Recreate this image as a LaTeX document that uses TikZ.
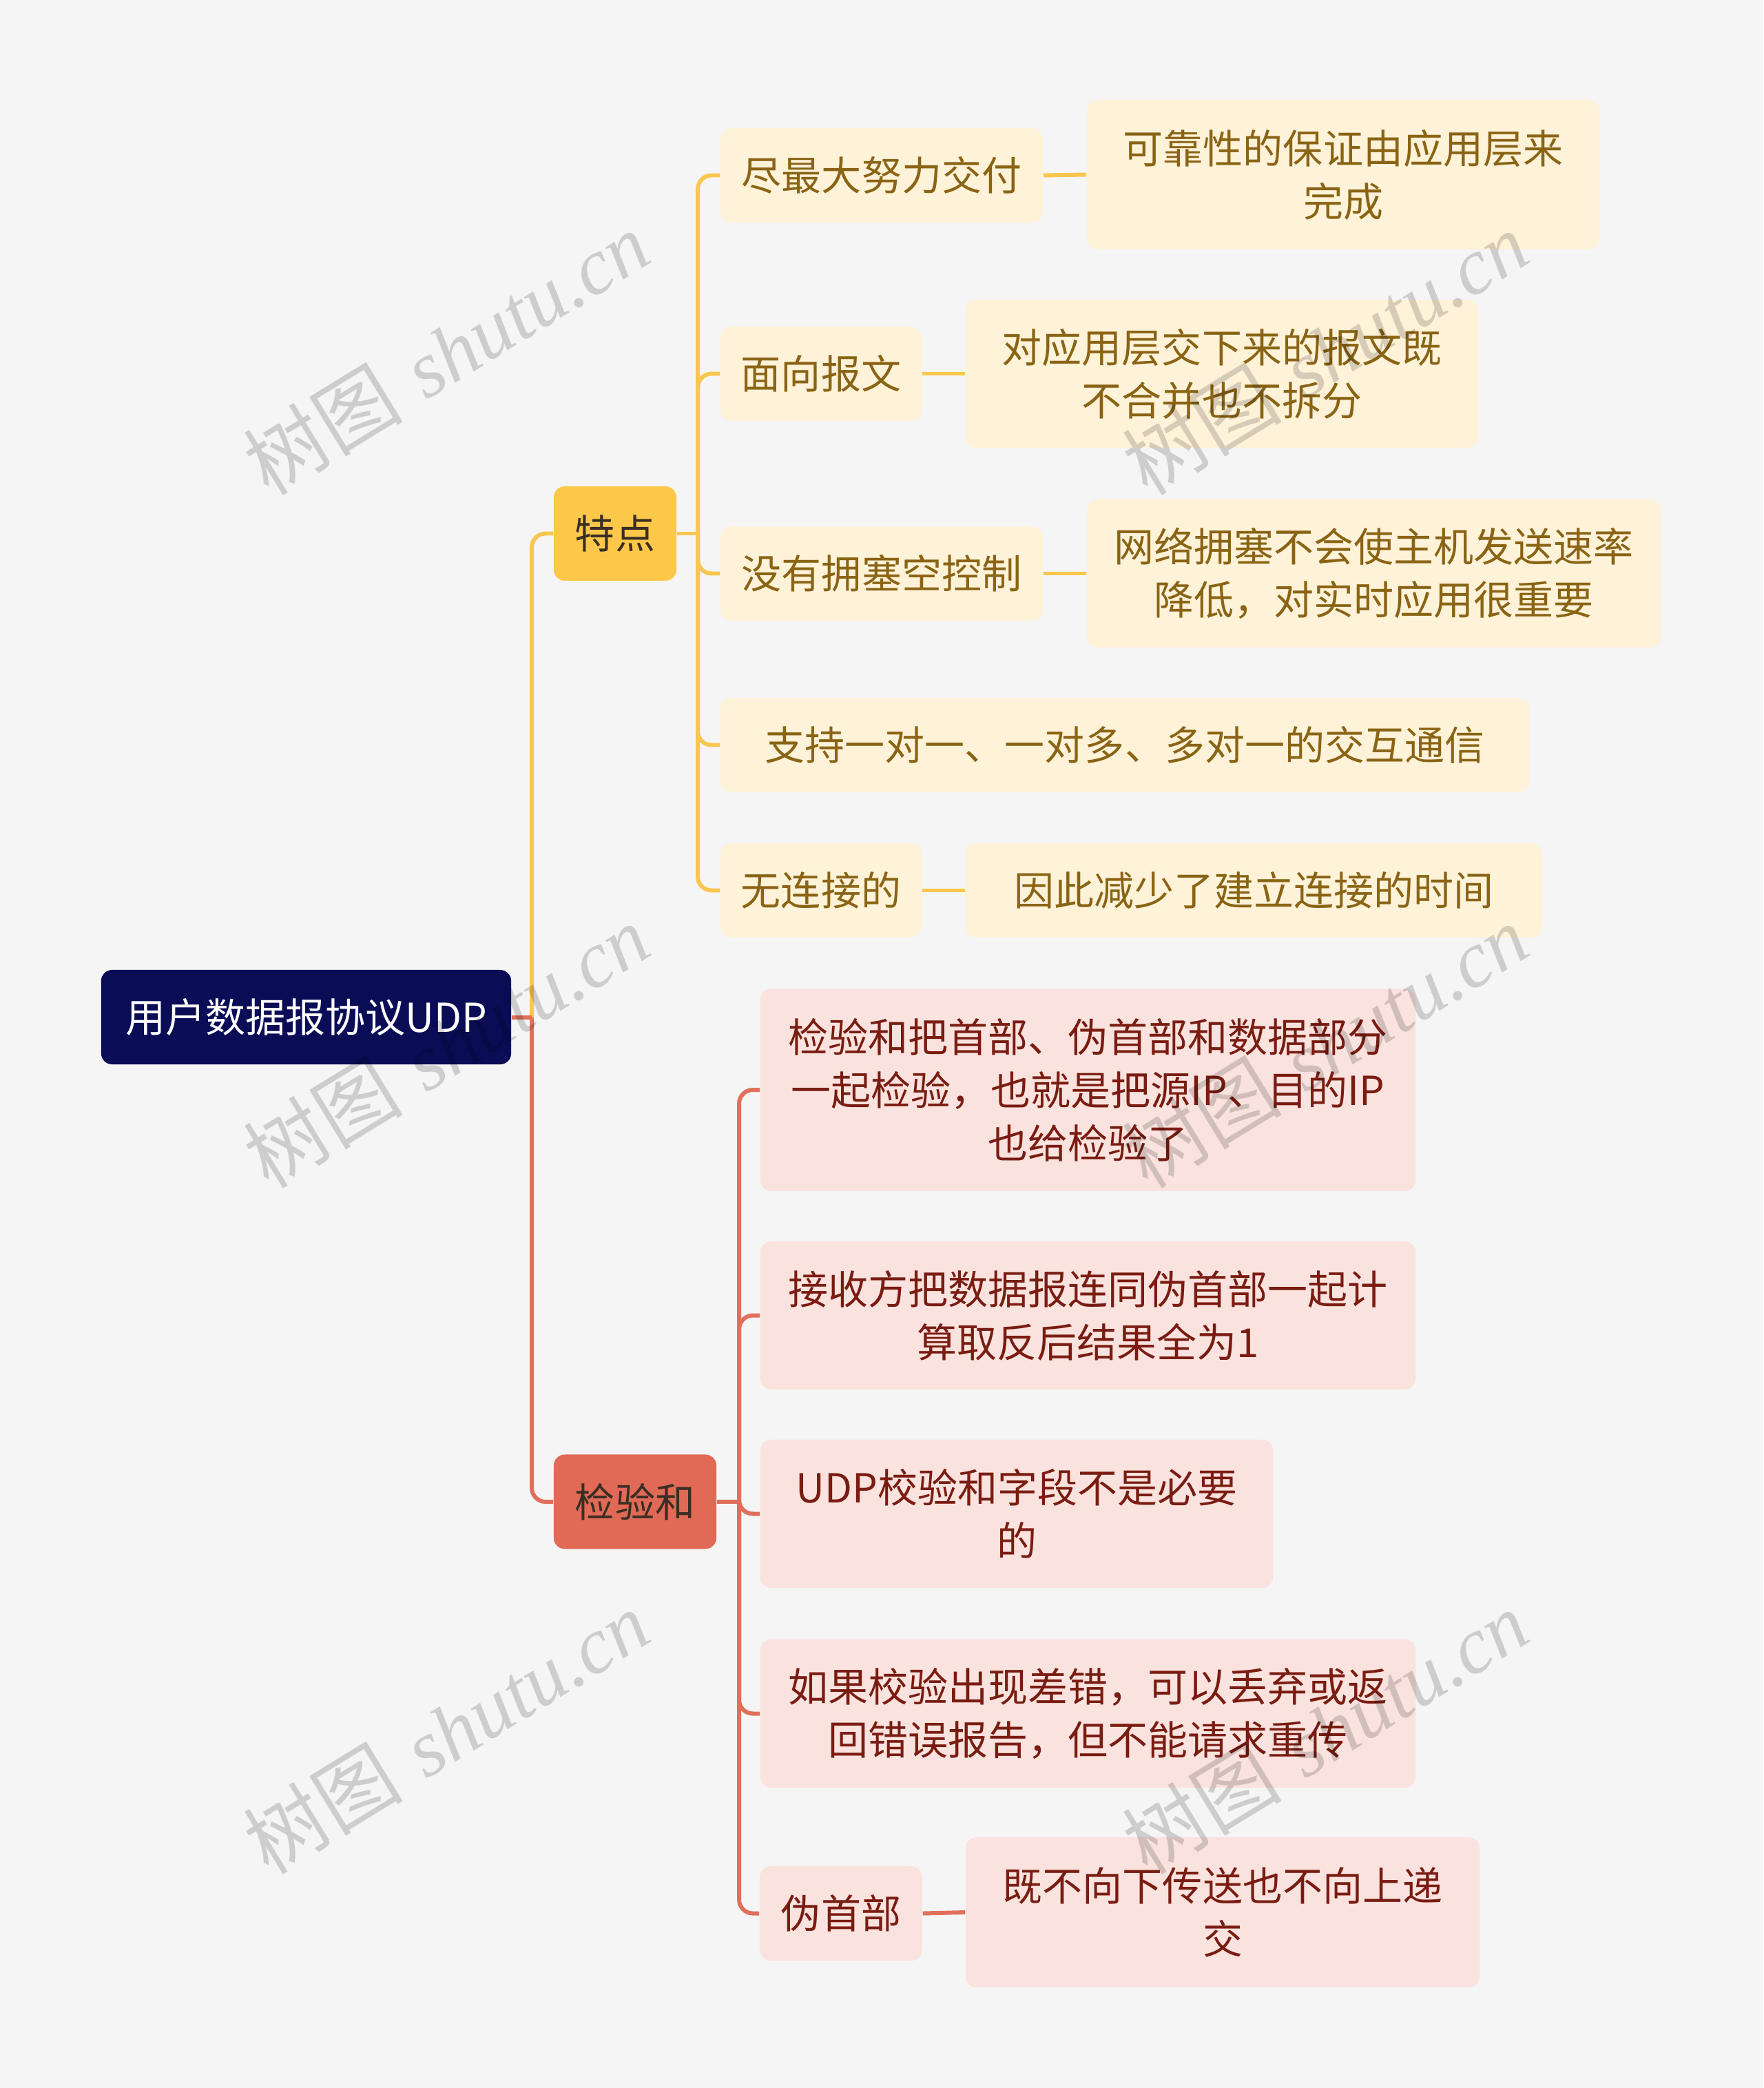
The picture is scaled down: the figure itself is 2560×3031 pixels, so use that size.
\documentclass[tikz,border=0pt]{standalone}
\usepackage{fontspec}
\newfontfamily\cjk{Noto Sans CJK SC}
\newfontfamily\wmserif{Liberation Serif}
\definecolor{bgc}{HTML}{F5F5F5}
\definecolor{rootc}{HTML}{0A0D56}
\definecolor{ymain}{HTML}{FDC84A}
\definecolor{rmain}{HTML}{E06A56}
\definecolor{ylight}{HTML}{FEF2D9}
\definecolor{rlight}{HTML}{FAE3DE}
\definecolor{ytext}{HTML}{8A6414}
\definecolor{rtext}{HTML}{7A1C12}
\definecolor{yline}{HTML}{F9C74F}
\definecolor{rline}{HTML}{E0705C}
\definecolor{darktext}{HTML}{3A2E24}
\begin{document}
\begin{tikzpicture}[x=0.01cm,y=-0.01cm,
  base/.style={rounded corners=0.16cm, inner sep=0pt, align=center,
    font=\cjk\fontsize{16.5pt}{21.9pt}\selectfont},
  rootbox/.style={base, fill=rootc, text=white},
  ymainbox/.style={base, fill=ymain, text=darktext},
  rmainbox/.style={base, fill=rmain, text=darktext},
  ybox/.style={base, fill=ylight, text=ytext},
  rbox/.style={base, fill=rlight, text=rtext},
  ylink/.style={draw=yline, line width=1.7pt, rounded corners=0.2cm},
  rlink/.style={draw=rline, line width=1.7pt, rounded corners=0.2cm},
  wm/.style={rotate=31.5, text=black, text opacity=0.16, inner sep=0pt}
]
\fill[bgc] (0,0) rectangle (2560,3031);
\useasboundingbox (0,0) rectangle (2560,3031);

% root and main branches
\node[rootbox, minimum width=5.95cm, minimum height=1.37cm] (root) at (444.5,1476.5) {用户数据报协议UDP};
\node[ymainbox, minimum width=1.78cm, minimum height=1.37cm] (td) at (893,774.5) {特点};
\node[rmainbox, minimum width=2.36cm, minimum height=1.37cm] (jyh) at (922,2180) {检验和};

% yellow children
\node[ybox, minimum width=4.68cm, minimum height=1.37cm] (y1) at (1280,254.5) {尽最大努力交付};
\node[ybox, minimum width=7.44cm, minimum height=2.17cm] (y1a) at (1950,253.5) {可靠性的保证由应用层来\\完成};
\node[ybox, minimum width=2.92cm, minimum height=1.37cm] (y2) at (1192,542.5) {面向报文};
\node[ybox, minimum width=7.44cm, minimum height=2.15cm] (y2a) at (1774,542.5) {对应用层交下来的报文既\\不合并也不拆分};
\node[ybox, minimum width=4.68cm, minimum height=1.37cm] (y3) at (1280,832.5) {没有拥塞空控制};
\node[ybox, minimum width=8.33cm, minimum height=2.15cm] (y3a) at (1994.5,832.5) {网络拥塞不会使主机发送速率\\降低，对实时应用很重要};
\node[ybox, minimum width=11.74cm, minimum height=1.37cm] (y4) at (1633,1081.5) {支持一对一、一对多、多对一的交互通信};
\node[ybox, minimum width=2.92cm, minimum height=1.37cm] (y5) at (1192,1292.5) {无连接的};
\node[ybox, minimum width=8.37cm, minimum height=1.37cm] (y5a) at (1820.5,1292.5) {因此减少了建立连接的时间};

% red children
\node[rbox, minimum width=9.51cm, minimum height=2.94cm] (r1) at (1579.5,1582) {检验和把首部、伪首部和数据部分\\一起检验，也就是把源IP、目的IP\\也给检验了};
\node[rbox, minimum width=9.51cm, minimum height=2.15cm] (r2) at (1579.5,1909.5) {接收方把数据报连同伪首部一起计\\算取反后结果全为1};
\node[rbox, minimum width=7.44cm, minimum height=2.15cm] (r3) at (1476,2197.5) {UDP校验和字段不是必要\\的};
\node[rbox, minimum width=9.51cm, minimum height=2.15cm] (r4) at (1579.5,2487.5) {如果校验出现差错，可以丢弃或返\\回错误报告，但不能请求重传};
\node[rbox, minimum width=2.36cm, minimum height=1.37cm] (r5) at (1221,2777.5) {伪首部};
\node[rbox, minimum width=7.46cm, minimum height=2.18cm] (r5a) at (1775,2776) {既不向下传送也不向上递\\交};

% junctions
\coordinate (j0) at (772,1476.5);
\coordinate (j1) at (1013,774.5);
\coordinate (j2) at (1073,2180);

% connectors
\draw[ylink] (j0) |- (td.west);
\draw[rlink] (j0) |- (jyh.west);
\draw[rlink] (root.east) -- (j0);

\draw[ylink] (td.east) -- (j1);
\foreach \c in {y1,y2,y3,y4,y5}{
  \draw[ylink] (j1) |- (\c.west);
}
\draw[ylink] (y1.east) -- (y1a.west);
\draw[ylink] (y2.east) -- (y2a.west);
\draw[ylink] (y3.east) -- (y3a.west);
\draw[ylink] (y5.east) -- (y5a.west);

\draw[rlink] (jyh.east) -- (j2);
\foreach \c in {r1,r2,r3,r4,r5}{
  \draw[rlink] (j2) |- (\c.west);
}
\draw[rlink] (r5.east) -- (r5a.west);

% watermarks
\foreach \p/\n in {{(648,512)}/wa,{(1924,512)}/wb,{(648,1518)}/wc,{(1924,1518)}/wd,{(648,2514)}/we,{(1924,2514)}/wf}{
  \node[wm] (\n) at \p {\fontsize{33pt}{33pt}\selectfont{\cjk 树图} {\wmserif\itshape shutu.cn}};
}
\end{tikzpicture}
\end{document}
